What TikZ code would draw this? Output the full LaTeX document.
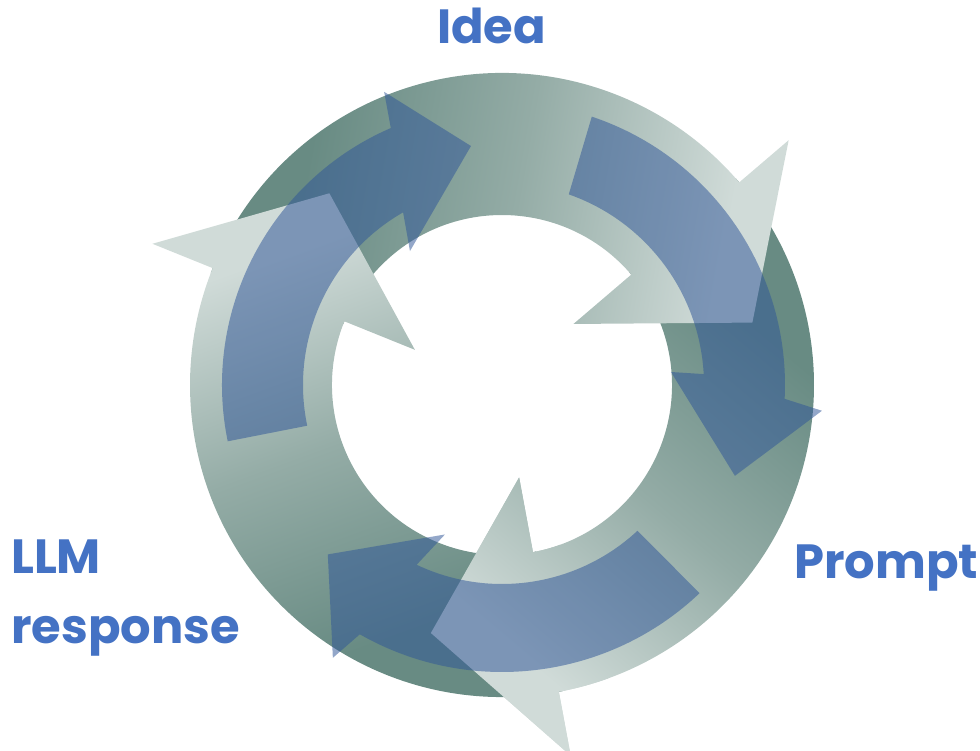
\documentclass[tikz,border=0pt]{standalone}
\usepackage{fontspec}
\newfontfamily\popfont{Poppins}
\definecolor{ringdk}{RGB}{104,139,131}
\definecolor{ringmd}{RGB}{148,172,166}
\definecolor{ringlt}{RGB}{208,219,216}
\definecolor{arrowblue}{RGB}{48,86,152}
\definecolor{labelblue}{RGB}{68,114,196}
\pgfdeclareverticalshading{ringshade}{100bp}{color(0bp)=(ringdk); color(32bp)=(ringdk); color(52bp)=(ringmd); color(72bp)=(ringlt); color(100bp)=(ringlt)}
\newcommand\lightarrowpath[3]{(#1:312pt) arc[start angle=#1, end angle=#2, radius=312pt] -- (#2:377pt) -- (#3:258pt) -- (#2:94pt) -- (#2:170pt) arc[start angle=#2, end angle=#1, radius=170pt] -- cycle}
\tikzset{
  ringpart/.style={shading=ringshade},
  bluearrow/.style={fill=arrowblue, fill opacity=0.52},
  lbl/.style={font=\popfont\bfseries\fontsize{48}{70}\selectfont, text=labelblue, inner sep=0pt}
}
\begin{document}
\begin{tikzpicture}[x=1pt,y=1pt]
\useasboundingbox (0,0) rectangle (980,-750);
\begin{scope}[shift={(502,-385)}]
  % light ring arrows
  \shade[ringpart, shading angle=140] \lightarrowpath{41.5}{-79.5}{-106};
  \shade[ringpart, shading angle=-100] \lightarrowpath{159}{40.5}{14};
  \shade[ringpart, shading angle=20] \lightarrowpath{-78.5}{-202}{-228};
  \begin{scope}
    \clip (0,0) -- (-70:450pt) -- (-95:500pt) -- (-118:450pt) -- cycle;
    \shade[ringpart, shading angle=140] \lightarrowpath{41.5}{-79.5}{-106};
  \end{scope}
  % blue arrows
  \fill[bluearrow] (71.5:283pt) arc[start angle=71.5, end angle=-2.8, radius=283pt]
     -- (-4.6:321pt) -- (-21.3:250pt) -- (4.4:169.5pt) -- (3.1:202pt)
     arc[start angle=3.1, end angle=70.7, radius=202pt] -- cycle;
  \fill[bluearrow] (-46.5:287pt) arc[start angle=-46.5, end angle=-119.7, radius=287pt]
     -- (-121.8:321pt) -- (-135.8:243pt) -- (-110.9:160pt) -- (-115.4:199pt)
     arc[start angle=-115.4, end angle=-47.1, radius=199pt] -- cycle;
  \fill[bluearrow] (-168.4:280pt) arc[start angle=-168.4, end angle=-246.6, radius=280pt]
     -- (-248.1:316pt) -- (-262.6:241pt) -- (-235.5:162.5pt) -- (-240.2:199pt)
     arc[start angle=-240.2, end angle=-168.2, radius=199pt] -- cycle;
\end{scope}
\node[lbl, anchor=base west] (idea) at (437,-43) {Idea};
\node[lbl, anchor=base west] (prompt) at (794,-578) {Prompt};
\node[lbl, anchor=base west, align=left] (llm) at (11,-643) {LLM\\response};
\end{tikzpicture}
\end{document}
